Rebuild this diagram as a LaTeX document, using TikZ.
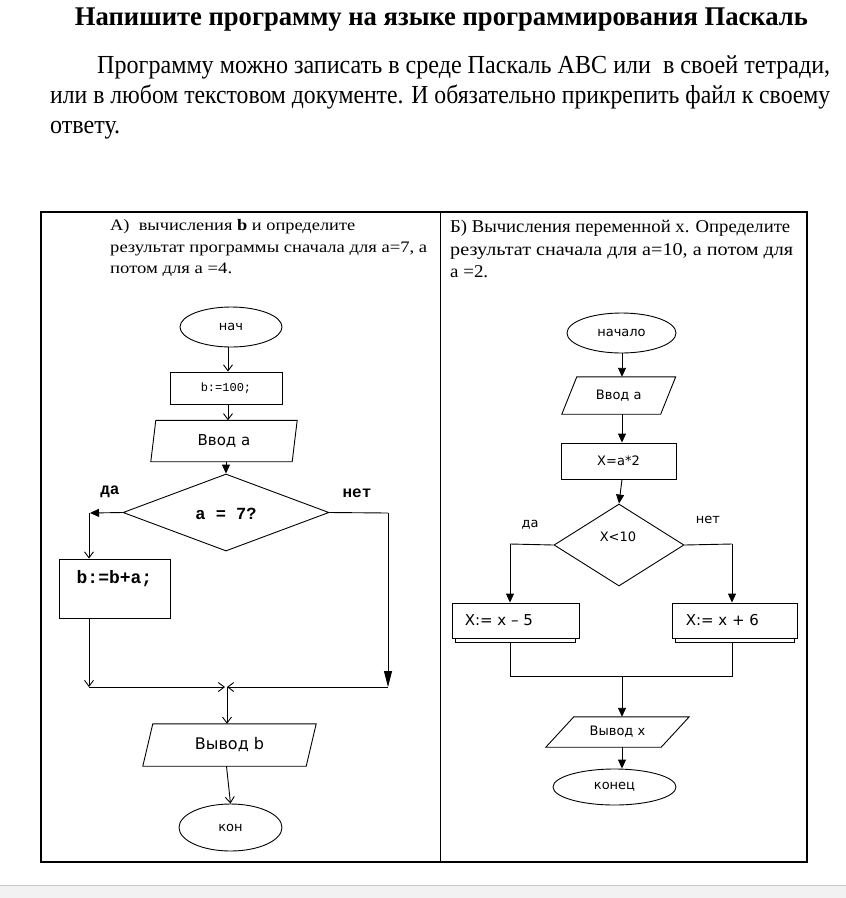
\documentclass[tikz,border=0pt]{standalone}
\usepackage{fontspec}
\setmainfont{Liberation Serif}
\newfontfamily\dv{DejaVu Sans}
\newfontfamily\mono{Liberation Mono}
\usetikzlibrary{shapes.geometric,arrows.meta}
\newcommand\fs[1]{\fontsize{#1}{#1}\selectfont}
\newcommand\paraout[2]{\draw[ln] ([xshift=#2]#1.north west) -- ([xshift=#2]#1.north east) -- ([xshift=-#2]#1.south east) -- ([xshift=-#2]#1.south west) -- cycle;}
\begin{document}
\begin{tikzpicture}[x=1pt,y=-1pt,
  ln/.style={line width=0.9pt},
  open/.style={ln,-{Straight Barb[length=6pt,width=9pt]}},
  filled/.style={ln,-{Triangle[length=9pt,width=8pt]}},
  longfilled/.style={ln,-{Triangle[length=16pt,width=8pt]}},
  term/.style={ellipse,draw,ln,inner sep=0pt},
  proc/.style={rectangle,draw,ln,inner sep=0pt},
  iobox/.style={rectangle,inner sep=0pt},
  dec/.style={diamond,draw,ln,inner sep=0pt},
  txt/.style={inner sep=0pt}]
\useasboundingbox (0,0) rectangle (846,898);
\fill[white] (0,0) rectangle (846,898);
% bottom gray bar
\fill[black!5] (0,885) rectangle (846,898);
\draw[black!22,line width=1pt] (0,885) -- (846,885);

% title and paragraph
\node[txt,anchor=base] (title) at (441.5,25) {\resizebox{733pt}{\height}{\fs{27}\bfseries Напишите программу на языке программирования Паскаль}};
\node[txt,anchor=base west] (p1) at (97,73) {\resizebox{733pt}{\height}{\fs{26}Программу можно записать в среде Паскаль ABC или\ \ в своей тетради,}};
\node[txt,anchor=base west] (p2) at (50,103) {\resizebox{780pt}{\height}{\fs{26}или в любом текстовом документе. И обязательно прикрепить файл к своему}};
\node[txt,anchor=base west] (p3) at (50,133) {\resizebox{70pt}{\height}{\fs{26}ответу.}};

% table
\draw[line width=1.1pt] (41,212) rectangle (807,862);
\draw[line width=1pt] (440,212) -- (440,862);

% left cell text
\node[txt,anchor=base west] (la1) at (110,230) {\resizebox{245pt}{\height}{\fs{16}А)\ \ вычисления \textbf{b} и определите}};
\node[txt,anchor=base west] (la2) at (110,252) {\resizebox{317pt}{\height}{\fs{16}результат программы сначала для а=7, а}};
\node[txt,anchor=base west] (la3) at (110,273) {\resizebox{122pt}{\height}{\fs{16}потом для а =4.}};

% right cell text
\node[txt,anchor=base west] (rb1) at (450,232) {\resizebox{340pt}{\height}{\fs{18}Б) Вычисления переменной х. Определите}};
\node[txt,anchor=base west] (rb2) at (450,255) {\resizebox{343pt}{\height}{\fs{18}результат сначала для а=10, а потом для}};
\node[txt,anchor=base west] (rb3) at (450,277) {\resizebox{38pt}{\height}{\fs{18}а =2.}};

% ===== left flowchart =====
\node[term,minimum width=102pt,minimum height=40pt] (st) at (231,327) {\dv\fs{13}нач};
\node[proc,minimum width=112pt,minimum height=32pt] (b100) at (226,388) {\mono\fs{12}b:=100;};
\node[iobox,minimum width=141pt,minimum height=41pt] (vin) at (224,441) {\dv\fs{15}Ввод а};
\paraout{vin}{2.5pt}
\node[dec,minimum width=206pt,minimum height=77pt] (dia) at (226,512.5) {};
\node[txt] (diat) at (226,514) {\mono\bfseries\fs{17}a = 7?};
\node[txt] (da) at (110,492) {\mono\bfseries\fs{16}да};
\node[txt] (net) at (357,493) {\mono\bfseries\fs{16}нет};
\node[proc,minimum width=111pt,minimum height=59pt,
  label={[anchor=north,inner sep=0pt,yshift=-12pt]north:{\mono\bfseries\fs{18}b:=b+a;}}] (bba) at (114.5,588.5) {};
\node[iobox,minimum width=163pt,minimum height=42pt] (vout) at (229.5,745) {\dv\fs{16}Вывод b};
\paraout{vout}{5pt}
\node[term,minimum width=103pt,minimum height=47pt] (kon) at (230.5,827.5) {\dv\fs{13}кон};

\coordinate (yl) at (89,513);
\coordinate (ml) at (89,687);
\coordinate (nr) at (388,513);
\coordinate (nb) at (388,687);
\coordinate (mc) at (227,687);

\draw[open] ([xshift=-3pt]st.south) -- ([xshift=2pt]b100.north);
\draw[open] ([xshift=2pt]b100.south) -- ([xshift=2pt]b100.south |- vin.north);
\draw[filled] ([xshift=2pt]vin.south) -- (dia.north);
\draw[filled] (dia.west) -- ([xshift=1pt]yl);
\draw[open] (yl) -- (yl |- bba.north);
\draw[open] (bba.south -| yl) -- (ml);
\draw[ln] (dia.east) -- (nr);
\draw[longfilled] (nr) -- (nb);
\draw[open] (ml) -- ([xshift=-2pt]mc);
\draw[open] (nb) -- (mc);
\draw[open] (mc) -- (mc |- vout.north);
\draw[open] ([xshift=-3pt]vout.south) -- (kon.north);

% ===== right flowchart =====
\node[term,minimum width=109pt,minimum height=40pt] (st2) at (621.5,333) {\dv\fs{13}начало};
\node[iobox,minimum width=98.5pt,minimum height=37pt] (vin2) at (618.75,395.5) {\dv\fs{13}Ввод а};
\paraout{vin2}{7.5pt}
\node[proc,minimum width=115pt,minimum height=36pt] (x2) at (618.5,461) {\dv\fs{13}X=a*2};
\node[dec,minimum width=130pt,minimum height=82pt] (dia2) at (619,545) {};
\node[txt] (dia2t) at (618,537) {\dv\fs{13}X<10};
\node[txt] (da2) at (530,525) {\dv\fs{13}да};
\node[txt] (net2) at (708,520) {\dv\fs{13}нет};
\node[proc,minimum width=120pt,minimum height=4pt] (s1) at (515,640) {};
\node[proc,minimum width=119pt,minimum height=4pt] (s2) at (734.5,640) {};
\node[proc,fill=white,minimum width=127pt,minimum height=35pt,
  label={[anchor=west,inner sep=0pt,xshift=13pt]west:{\dv\fs{15}X:= x – 5}}] (r1) at (515.5,620.5) {};
\node[proc,fill=white,minimum width=125pt,minimum height=35pt,
  label={[anchor=west,inner sep=0pt,xshift=14pt]west:{\dv\fs{15}X:= x + 6}}] (r2) at (734.5,620.5) {};
\node[iobox,minimum width=115pt,minimum height=30pt] (vout2) at (617.5,732) {\dv\fs{13}Вывод х};
\paraout{vout2}{14pt}
\node[term,minimum width=123pt,minimum height=36pt] (kon2) at (614.5,787) {\dv\fs{13}конец};

\coordinate (l2) at (510,544);
\coordinate (rr2) at (732,544);
\coordinate (j1) at (510,676);
\coordinate (j2) at (732,676);
\coordinate (jc) at (622,676);

\draw[filled] (jc |- st2.south) -- (jc |- vin2.north);
\draw[filled] (jc |- vin2.south) -- (jc |- x2.north);
\draw[filled] (jc |- x2.south) -- (dia2.north);
\draw[ln] (dia2.west) -- (l2);
\draw[filled] (l2) -- (l2 |- r1.north);
\draw[ln] (dia2.east) -- (rr2);
\draw[filled] (rr2) -- (rr2 |- r2.north);
\draw[ln] (s1.south -| j1) -- (j1) -- (j2) -- (s2.south -| j2);
\draw[filled] (jc) -- (jc |- vout2.north);
\draw[filled] (jc |- vout2.south) -- (jc |- kon2.north);
\end{tikzpicture}
\end{document}
